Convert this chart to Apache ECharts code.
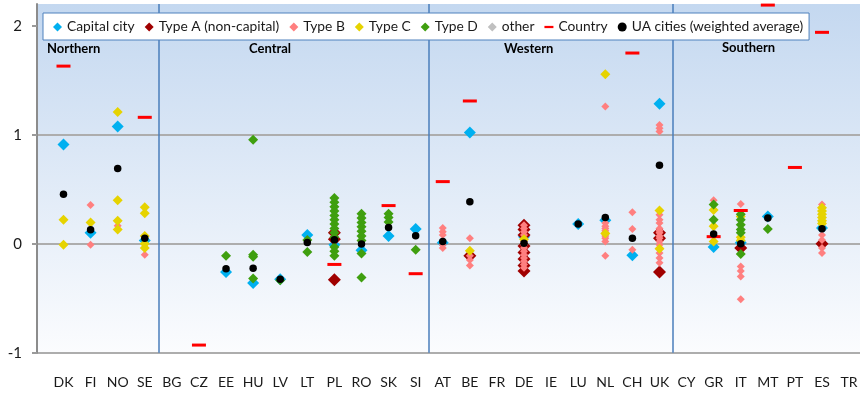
<!DOCTYPE html>
<html>
<head>
<meta charset="utf-8">
<script src="https://cdn.jsdelivr.net/npm/echarts@6/dist/echarts.min.js"></script>
<style>
  html, body { margin: 0; padding: 0; background: #ffffff; }
  #chart { width: 860px; height: 393px; }
</style>
</head>
<body>
<div id="chart"></div>
<script>
// Countries on the category axis, grouped by region
const categories = ['DK','FI','NO','SE','BG','CZ','EE','HU','LV','LT','PL','RO','SK','SI',
  'AT','BE','FR','DE','IE','LU','NL','CH','UK','CY','GR','IT','MT','PT','ES','TR'];
const regionNames = ['Northern', 'Central', 'Western', 'Southern'];
const regionFirstCountry = ['DK', 'BG', 'AT', 'CY'];
const yTicks = [-1, 0, 1, 2];

// City values per type: [country, value]
const capitalCity = [
  ['DK',0.91],['FI',0.10],['NO',1.075],['SE',0.03],['EE',-0.26],['HU',-0.36],['LV',-0.325],
  ['LT',0.08],['PL',-0.01],['RO',-0.06],['SK',0.07],['SI',0.135],['AT',0.01],['BE',1.02],
  ['DE',0.065],['LU',0.18],['NL',0.215],['CH',-0.105],['UK',1.285],['GR',-0.03],['IT',0.01],
  ['MT',0.25],['ES',0.145]
];
const typeA = [
  ['PL',0.10],['PL',0.04],['PL',-0.33],
  ['BE',-0.11],
  ['DE',0.17],['DE',0.13],['DE',0.08],['DE',-0.02],['DE',-0.08],['DE',-0.14],['DE',-0.20],['DE',-0.25],
  ['UK',0.10],['UK',0.05],['UK',-0.26],
  ['IT',-0.04],
  ['ES',0.0]
];
const typeB = [
  ['FI',0.355],['FI',-0.01],['NO',0.165],['SE',-0.10],
  ['AT',0.145],['AT',0.11],['AT',0.08],['AT',-0.01],['AT',-0.04],
  ['BE',0.05],['BE',-0.11],['BE',-0.15],['BE',-0.20],
  ['DE',0.17],['DE',0.14],['DE',0.11],['DE',0.08],['DE',0.05],['DE',0.02],['DE',-0.01],['DE',-0.04],
  ['DE',-0.07],['DE',-0.10],['DE',-0.13],['DE',-0.16],['DE',-0.19],['DE',-0.22],
  ['NL',1.26],['NL',0.19],['NL',0.16],['NL',0.14],['NL',0.12],['NL',0.10],['NL',0.07],['NL',0.05],['NL',0.02],['NL',-0.11],
  ['CH',0.29],['CH',0.135],['CH',-0.055],
  ['UK',1.09],['UK',1.06],['UK',1.03],['UK',0.265],['UK',0.22],['UK',0.19],['UK',0.14],['UK',0.12],['UK',0.10],
  ['UK',0.07],['UK',0.05],['UK',0.02],['UK',-0.01],['UK',-0.04],['UK',-0.085],['UK',-0.13],['UK',-0.175],
  ['GR',0.40],
  ['IT',0.365],['IT',-0.21],['IT',-0.25],['IT',-0.30],['IT',-0.51],
  ['ES',0.36],['ES',0.08],['ES',0.035],['ES',-0.04],['ES',-0.085]
];
const typeC = [
  ['DK',0.22],['DK',-0.01],['FI',0.195],
  ['NO',1.21],['NO',0.40],['NO',0.21],['NO',0.13],
  ['SE',0.335],['SE',0.28],['SE',0.07],['SE',0.0],['SE',-0.04],
  ['BE',-0.065],['DE',0.04],['NL',1.555],['NL',0.095],['UK',0.305],['UK',-0.045],
  ['GR',0.31],['GR',0.16],['GR',0.02],
  ['IT',0.25],['IT',0.06],['IT',0.03],
  ['ES',0.33],['ES',0.30],['ES',0.27],['ES',0.24],['ES',0.21],['ES',0.185]
];
const typeD = [
  ['EE',-0.11],['HU',0.955],['HU',-0.10],['HU',-0.12],['HU',-0.32],['LV',-0.335],['LT',0.035],['LT',-0.075],
  ['PL',0.42],['PL',0.38],['PL',0.34],['PL',0.30],['PL',0.26],['PL',0.22],['PL',0.18],['PL',0.14],['PL',0.10],
  ['PL',0.06],['PL',-0.03],['PL',-0.07],['PL',-0.11],
  ['RO',0.275],['RO',0.235],['RO',0.195],['RO',0.155],['RO',0.115],['RO',0.07],['RO',0.03],['RO',-0.09],['RO',-0.31],
  ['SK',0.275],['SK',0.24],['SK',0.20],['SI',-0.055],
  ['GR',0.36],['GR',0.22],
  ['IT',0.27],['IT',0.22],['IT',0.175],['IT',0.13],['IT',0.10],['IT',-0.095],
  ['MT',0.135]
];
const otherCities = [];
const country = [
  ['DK',1.63],['SE',1.16],['CZ',-0.93],['PL',-0.19],['SK',0.35],['SI',-0.275],
  ['AT',0.57],['BE',1.31],['CH',1.75],['GR',0.065],['IT',0.305],['MT',2.19],['PT',0.70],['ES',1.94]
];
const uaCities = [
  ['DK',0.455],['FI',0.128],['NO',0.69],['SE',0.05],['EE',-0.23],['HU',-0.225],['LV',-0.325],
  ['LT',0.012],['PL',0.037],['RO',-0.003],['SK',0.15],['SI',0.073],['AT',0.02],['BE',0.385],
  ['DE',0.005],['LU',0.18],['NL',0.24],['CH',0.05],['UK',0.72],['GR',0.09],['IT',0.0],
  ['MT',0.235],['ES',0.137]
];

const FONT = 'Lato';
const separatorIdx = regionFirstCountry.slice(1).map(c => categories.indexOf(c));

const chart = echarts.init(document.getElementById('chart'), null, { renderer: 'canvas' });

function scatter(name, data, symbol, size, color) {
  return {
    name, type: 'scatter', data, symbol, symbolSize: size,
    xAxisIndex: 0, yAxisIndex: 0,
    itemStyle: { color, opacity: 1 },
    emphasis: { disabled: true },
    silent: true
  };
}

chart.setOption({
  animation: false,
  textStyle: { fontFamily: FONT },
  grid: [
    // marks and category labels
    { left: 49.95, right: -2.65, top: 4, bottom: 40.3, outerBoundsMode: 'none', containLabel: false },
    // backdrop and value axis
    { left: 37, right: 0, top: 4, bottom: 40.3, outerBoundsMode: 'none', containLabel: false,
      show: true, borderWidth: 0,
      backgroundColor: new echarts.graphic.LinearGradient(0, 0, 0, 1, [
        { offset: 0, color: '#c4d8f0' },
        { offset: 1, color: '#fbfcfe' }
      ]) }
  ],
  xAxis: [
    {
      gridIndex: 0, type: 'category', data: categories, boundaryGap: true,
      axisLine: { show: false }, axisTick: { show: false },
      axisLabel: { interval: 0, margin: 23, fontSize: 14, color: '#1a1a1a', fontFamily: FONT },
      splitLine: {
        show: true,
        interval: (index) => separatorIdx.includes(index),
        lineStyle: { color: '#4a7ebb', width: 1.5 }
      }
    },
    { gridIndex: 1, type: 'value', min: 0, max: 1, show: false }
  ],
  yAxis: [
    { gridIndex: 0, type: 'value', min: -1, max: 2.2, show: false },
    {
      gridIndex: 1, type: 'value', min: -1, max: 2.2, interval: 1,
      axisLine: { show: true, lineStyle: { color: '#8c8c8c', width: 2 } },
      axisTick: { show: true, length: 5, customValues: yTicks, lineStyle: { color: '#9a9a9a', width: 2 } },
      axisLabel: { customValues: yTicks, margin: 15, fontSize: 15, color: '#1a1a1a', fontFamily: FONT },
      splitLine: { show: true, showMaxLine: false, lineStyle: { color: '#adadad', width: 2 } }
    }
  ],
  legend: {
    left: 43, top: 13,
    padding: [7, 6, 6, 10],
    itemGap: 10, itemWidth: 9, itemHeight: 9,
    backgroundColor: '#ffffff', borderColor: '#4f81bd', borderWidth: 1, borderRadius: 0,
    textStyle: { fontSize: 13.8, color: '#1a1a1a', fontFamily: FONT },
    selectedMode: false,
    data: [
      { name: 'Capital city', icon: 'diamond' },
      { name: 'Type A (non-capital)', icon: 'diamond' },
      { name: 'Type B', icon: 'diamond' },
      { name: 'Type C', icon: 'diamond' },
      { name: 'Type D', icon: 'diamond' },
      { name: 'other', icon: 'diamond' },
      { name: 'Country', icon: 'path://M0,0H12V3H0Z' },
      { name: 'UA cities (weighted average)', icon: 'circle' }
    ]
  },
  graphic: [
    { type: 'text', left: 47, top: 42, style: { text: regionNames[0], font: 'bold 13px ' + FONT, fill: '#000' } },
    { type: 'text', left: 249, top: 42, style: { text: regionNames[1], font: 'bold 13px ' + FONT, fill: '#000' } },
    { type: 'text', left: 504, top: 42, style: { text: regionNames[2], font: 'bold 13px ' + FONT, fill: '#000' } },
    { type: 'text', left: 722, top: 41, style: { text: regionNames[3], font: 'bold 13px ' + FONT, fill: '#000' } }
  ],
  series: [
    scatter('Capital city', capitalCity, 'diamond', 12, '#00b0f0'),
    scatter('Type A (non-capital)', typeA, 'diamond', 13, '#a00000'),
    scatter('Type B', typeB, 'diamond', 8, '#ff7f7f'),
    scatter('Type C', typeC, 'diamond', 10, '#e6d300'),
    scatter('Type D', typeD, 'diamond', 10, '#3f9f0f'),
    scatter('other', otherCities, 'diamond', 8, '#c0c0c0'),
    scatter('Country', country, 'rect', [14, 3], '#ff0000'),
    scatter('UA cities (weighted average)', uaCities, 'circle', 7.5, '#000000')
  ]
});
</script>
</body>
</html>
